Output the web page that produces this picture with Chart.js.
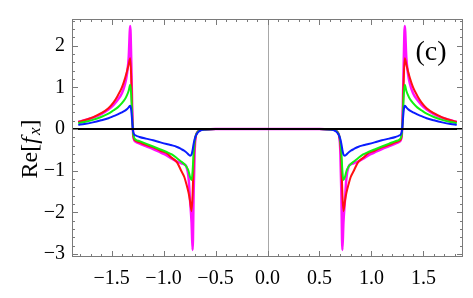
<!DOCTYPE html>
<html>
<head>
<meta charset="utf-8">
<script src="https://cdn.jsdelivr.net/npm/chart.js@4.4.6/dist/chart.umd.min.js"></script>
<style>
  html, body { margin: 0; padding: 0; background: #fff; }
  #wrap { width: 473px; height: 298px; }
</style>
</head>
<body>
<div id="wrap"><canvas id="chart" width="473" height="298"></canvas></div>
<script>
const xValues = [
  -1.82, -1.76, -1.68, -1.60, -1.53, -1.48, -1.44, -1.40, -1.37, -1.35, -1.335, -1.32, -1.31, -1.30, -1.29, -1.27,
  -1.23, -1.17, -1.10, -1.03, -0.97, -0.92, -0.87, -0.83, -0.80, -0.78, -0.76, -0.745, -0.73, -0.72, -0.71, -0.70,
  -0.69, -0.68, -0.66, -0.64, -0.60, -0.50, -0.30, 0,
  0.30, 0.50, 0.60, 0.64, 0.66, 0.68, 0.69, 0.70, 0.71, 0.72, 0.73, 0.745, 0.76, 0.78, 0.80, 0.83, 0.87, 0.92,
  0.97, 1.03, 1.10, 1.17, 1.23, 1.27, 1.29, 1.30, 1.31, 1.32, 1.335, 1.35, 1.37, 1.40, 1.44, 1.48, 1.53, 1.60,
  1.68, 1.76, 1.82
]

const blueValues = [
  0.10, 0.12, 0.16, 0.21, 0.26, 0.31, 0.35, 0.40, 0.44, 0.48, 0.52, 0.56, 0.45, 0.15, -0.08, -0.15,
  -0.19, -0.23, -0.27, -0.32, -0.36, -0.39, -0.43, -0.48, -0.52, -0.56, -0.61, -0.64, -0.61, -0.50, -0.35, -0.24,
  -0.17, -0.12, -0.06, -0.03, -0.01, 0, 0, 0,
  0, 0, -0.01, -0.03, -0.06, -0.12, -0.17, -0.24, -0.35, -0.50, -0.61, -0.64, -0.61, -0.56, -0.52, -0.48, -0.43, -0.39,
  -0.36, -0.32, -0.27, -0.23, -0.19, -0.15, -0.08, 0.15, 0.45, 0.56, 0.52, 0.48, 0.44, 0.40, 0.35, 0.31, 0.26, 0.21,
  0.16, 0.12, 0.10
]

const greenValues = [
  0.14, 0.17, 0.22, 0.29, 0.37, 0.45, 0.52, 0.62, 0.72, 0.82, 0.92, 1.06, 0.80, 0.20, -0.14, -0.25,
  -0.29, -0.35, -0.42, -0.49, -0.55, -0.61, -0.70, -0.78, -0.84, -0.90, -1.00, -1.15, -1.22, -1.00, -0.55, -0.28,
  -0.16, -0.10, -0.04, -0.02, -0.01, 0, 0, 0,
  0, 0, -0.01, -0.02, -0.04, -0.10, -0.16, -0.28, -0.55, -1.00, -1.22, -1.15, -1.00, -0.90, -0.84, -0.78, -0.70, -0.61,
  -0.55, -0.49, -0.42, -0.35, -0.29, -0.25, -0.14, 0.20, 0.80, 1.06, 0.92, 0.82, 0.72, 0.62, 0.52, 0.45, 0.37, 0.29,
  0.22, 0.17, 0.14
]

const redValues = [
  0.17, 0.21, 0.28, 0.38, 0.50, 0.64, 0.80, 1.00, 1.22, 1.40, 1.55, 1.70, 1.20, 0.30, -0.17, -0.28,
  -0.32, -0.38, -0.44, -0.52, -0.58, -0.69, -0.80, -1.00, -1.15, -1.32, -1.52, -1.72, -1.97, -1.55, -0.80, -0.35,
  -0.18, -0.10, -0.04, -0.02, -0.01, 0, 0, 0,
  0, 0, -0.01, -0.02, -0.04, -0.10, -0.18, -0.35, -0.80, -1.55, -1.97, -1.72, -1.52, -1.32, -1.15, -1.00, -0.80, -0.69,
  -0.58, -0.52, -0.44, -0.38, -0.32, -0.28, -0.17, 0.30, 1.20, 1.70, 1.55, 1.40, 1.22, 1.00, 0.80, 0.64, 0.50, 0.38,
  0.28, 0.21, 0.17
]

const magentaValues = [
  0.17, 0.21, 0.27, 0.36, 0.47, 0.58, 0.70, 0.86, 1.08, 1.35, 1.70, 2.47, 1.60, 0.40, -0.18, -0.30,
  -0.35, -0.41, -0.48, -0.56, -0.63, -0.71, -0.78, -0.82, -0.85, -0.90, -1.15, -1.70, -2.25, -2.90, -1.50, -0.50,
  -0.18, -0.10, -0.04, -0.02, -0.01, 0, 0, 0,
  0, 0, -0.01, -0.02, -0.04, -0.10, -0.18, -0.50, -1.50, -2.90, -2.25, -1.70, -1.15, -0.90, -0.85, -0.82, -0.78, -0.71,
  -0.63, -0.56, -0.48, -0.41, -0.35, -0.30, -0.18, 0.40, 1.60, 2.47, 1.70, 1.35, 1.08, 0.86, 0.70, 0.58, 0.47, 0.36,
  0.27, 0.21, 0.17
]

const xTicks = [-1.5, -1.0, -0.5, 0.0, 0.5, 1.0, 1.5]
const yTicks = [-3, -2, -1, 0, 1, 2]
const xRange = [-1.88, 1.88]
const yRange = [-3.07, 2.64]
const panelLabel = '(c)'

const SERIF = "'Liberation Serif', 'DejaVu Serif', serif"
const minus = (s) => s.replace('-', '\u2212')
const toPoints = (ys) => xValues.map((x, i) => ({ x, y: ys[i] }))

function series(values, color, width) {
  return {
    data: toPoints(values),
    borderColor: color,
    borderWidth: width,
    pointRadius: 0,
    cubicInterpolationMode: 'monotone',
    fill: false
  }
}

// frame, inward ticks, reference lines and the text that Chart.js has no slot for
const framePlugin = {
  id: 'frame',
  beforeDatasetsDraw(chart) {
    const { ctx, chartArea: a, scales: { x } } = chart
    ctx.save()
    ctx.strokeStyle = '#a8a8a8'
    ctx.lineWidth = 1
    const px = Math.round(x.getPixelForValue(0)) + 0.5
    ctx.beginPath()
    ctx.moveTo(px, a.top)
    ctx.lineTo(px, a.bottom)
    ctx.stroke()
    ctx.restore()
  },
  afterDatasetsDraw(chart) {
    const { ctx, chartArea: a, scales: { x, y } } = chart
    ctx.save()

    // zero line
    const py0 = y.getPixelForValue(0)
    ctx.strokeStyle = '#000'
    ctx.lineWidth = 2
    ctx.beginPath()
    ctx.moveTo(a.left, py0)
    ctx.lineTo(a.right, py0)
    ctx.stroke()

    // frame
    ctx.strokeStyle = '#7a7a7a'
    ctx.lineWidth = 1
    ctx.strokeRect(a.left + 0.5, a.top + 0.5, a.right - a.left - 1, a.bottom - a.top - 1)

    ctx.beginPath()
    for (let i = Math.ceil(x.min * 10); i <= Math.floor(x.max * 10); i++) {
      const len = i % 5 === 0 ? 6 : 3
      const px = Math.round(x.getPixelForValue(i / 10)) + 0.5
      ctx.moveTo(px, a.bottom)
      ctx.lineTo(px, a.bottom - len)
      ctx.moveTo(px, a.top)
      ctx.lineTo(px, a.top + len)
    }
    for (let i = Math.ceil(y.min * 5); i <= Math.floor(y.max * 5); i++) {
      const len = i % 5 === 0 ? 6 : 3
      const py = Math.round(y.getPixelForValue(i / 5)) + 0.5
      ctx.moveTo(a.left, py)
      ctx.lineTo(a.left + len, py)
      ctx.moveTo(a.right, py)
      ctx.lineTo(a.right - len, py)
    }
    ctx.stroke()

    // panel label
    ctx.fillStyle = '#000'
    ctx.font = `28px ${SERIF}`
    ctx.textAlign = 'center'
    ctx.textBaseline = 'middle'
    ctx.fillText(panelLabel, 431, 53)

    // y axis title: Re[f_x]
    const parts = [
      { t: 'Re[', font: `24px ${SERIF}`, dy: 0 },
      { t: 'f', font: `italic 24px ${SERIF}`, dy: 0 },
      { t: 'x', font: `italic 17px ${SERIF}`, dy: 5 },
      { t: ']', font: `24px ${SERIF}`, dy: 0 }
    ]
    let total = 0
    for (const p of parts) {
      ctx.font = p.font
      p.w = ctx.measureText(p.t).width + (p.t === 'f' ? 2 : 0)
      total += p.w
    }
    ctx.translate(31, 149)
    ctx.rotate(-Math.PI / 2)
    ctx.textAlign = 'left'
    ctx.textBaseline = 'middle'
    let cx = -total / 2
    for (const p of parts) {
      ctx.font = p.font
      ctx.fillText(p.t, cx, p.dy)
      cx += p.w
    }
    ctx.restore()
  }
}

new Chart(document.getElementById('chart'), {
  type: 'line',
  data: {
    datasets: [
      series(blueValues, '#0a1cff', 2),
      series(greenValues, '#10f010', 2),
      series(redValues, '#ff1010', 2),
      series(magentaValues, '#ff10ff', 2.5)
    ]
  },
  options: {
    responsive: false,
    animation: false,
    layout: { padding: { top: 17, right: 10, left: 0, bottom: 0 } },
    plugins: { legend: { display: false }, tooltip: { enabled: false } },
    scales: {
      x: {
        type: 'linear',
        min: xRange[0],
        max: xRange[1],
        grid: { display: false, drawTicks: false },
        border: { display: false },
        ticks: {
          autoSkip: false,
          padding: 10,
          maxRotation: 0,
          color: '#000',
          font: { family: SERIF, size: 20 },
          callback: (v) => minus(Number(v).toFixed(1))
        },
        afterBuildTicks: (s) => { s.ticks = xTicks.map((value) => ({ value })) },
        afterFit: (s) => { s.height = 41 }
      },
      y: {
        min: yRange[0],
        max: yRange[1],
        grid: { display: false, drawTicks: false },
        border: { display: false },
        ticks: {
          autoSkip: false,
          padding: 7,
          color: '#000',
          font: { family: SERIF, size: 20 },
          callback: (v) => minus(String(Math.round(v)))
        },
        afterBuildTicks: (s) => { s.ticks = yTicks.map((value) => ({ value })) },
        afterFit: (s) => { s.width = 72 }
      }
    }
  },
  plugins: [framePlugin]
})
</script>
</body>
</html>
